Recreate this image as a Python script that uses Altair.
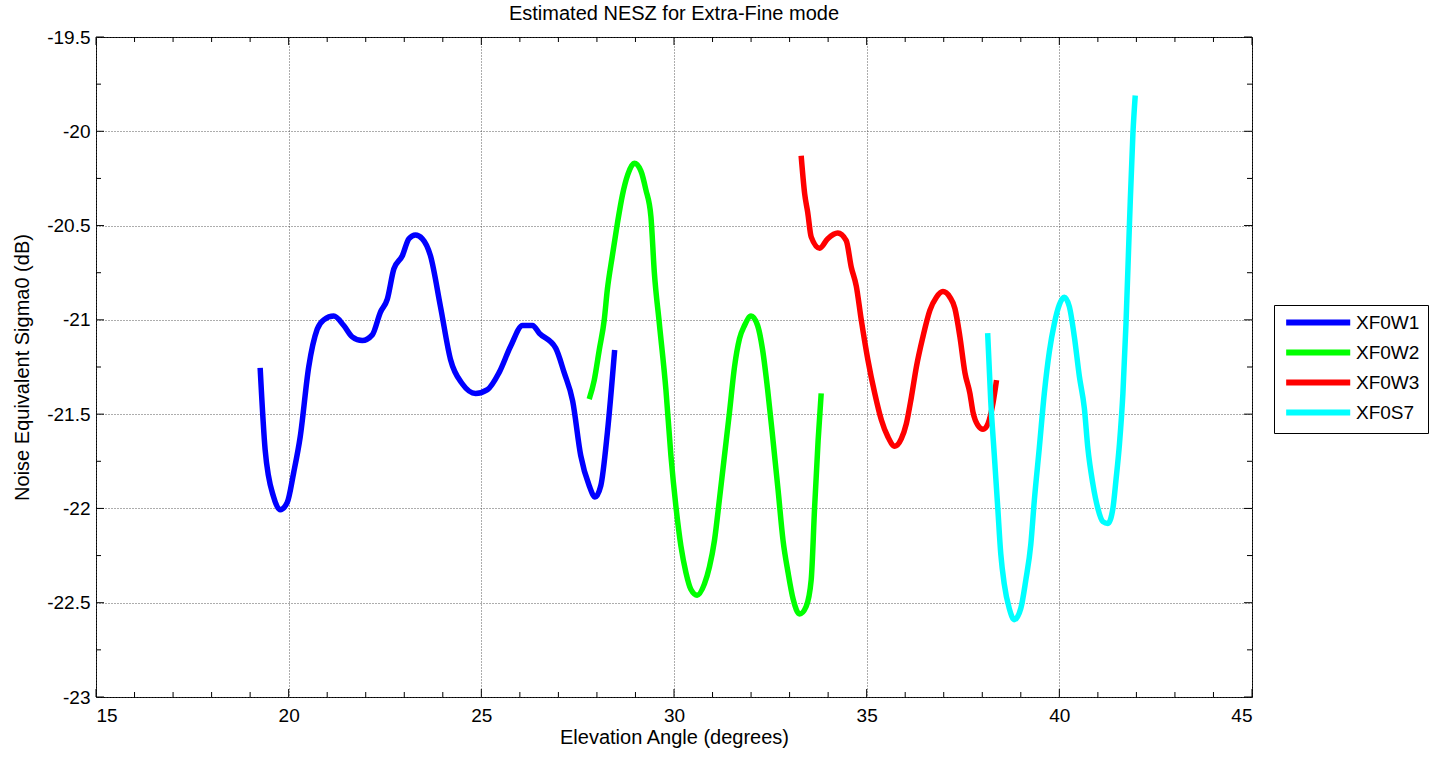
import altair as alt
import pandas as pd

# Plot area size in pixels
W, H = 1156, 660
FONT = "Liberation Sans"

SERIES = ["XF0W1", "XF0W2", "XF0W3", "XF0S7"]
COLORS = ["#0000ff", "#00ff00", "#ff0000", "#00ffff"]

xf0w1_angle = [19.26, 19.39, 19.61, 19.78, 19.96, 20.13, 20.30, 20.52, 20.74, 20.91,
               21.17, 21.43, 21.65, 21.91, 22.17, 22.38, 22.56, 22.73, 22.95, 23.12,
               23.29, 23.47, 23.68, 23.94, 24.20, 24.51, 24.85, 25.16, 25.46, 25.76,
               26.07, 26.33, 26.50, 26.93, 27.15, 27.37, 27.58, 27.80, 27.95, 28.10,
               28.27, 28.46]
xf0w1_nesz = [-21.255, -21.69, -21.94, -22.007, -21.97, -21.81, -21.62, -21.25, -21.05, -21.0,
              -20.98, -21.03, -21.09, -21.11, -21.08, -20.96, -20.89, -20.73, -20.66, -20.57,
              -20.55, -20.57, -20.66, -20.93, -21.21, -21.34, -21.39, -21.37, -21.28, -21.14,
              -21.03, -21.03, -21.07, -21.15, -21.28, -21.43, -21.72, -21.88, -21.94, -21.88,
              -21.60, -21.16]

xf0w2_angle = [27.80, 27.93, 28.06, 28.19, 28.27, 28.40, 28.53, 28.66, 28.80, 28.97,
               29.14, 29.27, 29.40, 29.49, 29.62, 29.79, 29.92, 30.05, 30.18, 30.31,
               30.44, 30.60, 30.79, 30.92, 31.05, 31.18, 31.31, 31.44, 31.57, 31.70,
               31.83, 32.00, 32.17, 32.30, 32.43, 32.57, 32.70, 32.83, 32.96, 33.09,
               33.26, 33.43, 33.56, 33.65, 33.74, 33.82]
xf0w2_nesz = [-21.42, -21.32, -21.16, -21.0, -20.84, -20.66, -20.49, -20.34, -20.23, -20.17,
              -20.21, -20.31, -20.45, -20.75, -21.02, -21.37, -21.72, -21.99, -22.20, -22.34,
              -22.43, -22.46, -22.40, -22.31, -22.17, -21.95, -21.72, -21.49, -21.25, -21.10,
              -21.03, -20.98, -21.03, -21.16, -21.37, -21.64, -21.90, -22.17, -22.34, -22.48,
              -22.56, -22.52, -22.38, -21.99, -21.64, -21.39]

xf0w3_angle = [33.30, 33.39, 33.47, 33.56, 33.78, 33.99, 34.25, 34.47, 34.60, 34.73,
               34.86, 35.03, 35.21, 35.38, 35.55, 35.73, 35.90, 36.03, 36.16, 36.29,
               36.46, 36.64, 36.81, 36.98, 37.16, 37.29, 37.42, 37.55, 37.68, 37.76,
               37.89, 38.02, 38.15, 38.28, 38.37]
xf0w3_nesz = [-20.13, -20.33, -20.43, -20.56, -20.62, -20.57, -20.54, -20.58, -20.72, -20.82,
              -21.0, -21.21, -21.39, -21.53, -21.62, -21.67, -21.63, -21.55, -21.41, -21.25,
              -21.09, -20.95, -20.88, -20.85, -20.88, -20.94, -21.09, -21.28, -21.39, -21.49,
              -21.56, -21.58, -21.55, -21.44, -21.32]

xf0s7_angle = [38.14, 38.22, 38.31, 38.40, 38.48, 38.57, 38.70, 38.83, 39.00, 39.13,
               39.26, 39.35, 39.48, 39.61, 39.74, 39.87, 40.00, 40.13, 40.26, 40.39,
               40.52, 40.65, 40.74, 40.87, 41.00, 41.13, 41.26, 41.39, 41.47, 41.56,
               41.65, 41.73, 41.82, 41.91, 41.97]
xf0s7_nesz = [-21.07, -21.43, -21.71, -21.99, -22.24, -22.40, -22.53, -22.59, -22.53, -22.38,
              -22.19, -21.96, -21.68, -21.39, -21.17, -21.02, -20.92, -20.88, -20.93, -21.09,
              -21.30, -21.47, -21.68, -21.87, -22.0, -22.07, -22.08, -22.0, -21.85, -21.66,
              -21.39, -21.02, -20.49, -20.01, -19.81]

x_major = [15, 20, 25, 30, 35, 40, 45]
x_minor = [v for v in range(16, 45) if v % 5 != 0]
y_major = [-23, -22.5, -22, -21.5, -21, -20.5, -20, -19.5]
y_minor = [-22.75, -22.25, -21.75, -21.25, -20.75, -20.25, -19.75]

rows = []
for name, xs, ys in [
    ("XF0W1", xf0w1_angle, xf0w1_nesz),
    ("XF0W2", xf0w2_angle, xf0w2_nesz),
    ("XF0W3", xf0w3_angle, xf0w3_nesz),
    ("XF0S7", xf0s7_angle, xf0s7_nesz),
]:
    for i, (a, b) in enumerate(zip(xs, ys)):
        rows.append({"series": name, "angle": a, "nesz": b, "idx": i})
df = pd.DataFrame(rows)

x_scale = alt.Scale(domain=[15, 45], nice=False, zero=False)
y_scale = alt.Scale(domain=[-23, -19.5], nice=False, zero=False)
x_axis = alt.Axis(values=x_major, title="Elevation Angle (degrees)",
                  labelExpr="datum.value + ''")
y_axis = alt.Axis(values=y_major, title="Noise Equivalent Sigma0 (dB)",
                  labelExpr="datum.value + ''")

# legend sample: a horizontal stroke starting at the symbol's left edge
SAMPLE_PATH = "M-1,0H11"

lines = alt.Chart(df).mark_line(strokeWidth=5.5, strokeJoin="round",
                                interpolate="monotone", clip=True).encode(
    x=alt.X("angle:Q", scale=x_scale, axis=x_axis),
    y=alt.Y("nesz:Q", scale=y_scale, axis=y_axis),
    color=alt.Color("series:N", scale=alt.Scale(domain=SERIES, range=COLORS),
                    legend=alt.Legend(title=None, orient="none", legendX=1178, legendY=268,
                                      symbolType=SAMPLE_PATH, symbolSize=114,
                                      symbolStrokeWidth=6, labelFontSize=19,
                                      labelFont=FONT, labelColor="black",
                                      strokeColor="black", fillColor="white",
                                      padding=8, rowPadding=5, labelOffset=55)),
    order="idx:Q",
)

xmaj = pd.DataFrame({"v": x_major})
xmin = pd.DataFrame({"v": x_minor})
ymaj = pd.DataFrame({"v": y_major})
ymin = pd.DataFrame({"v": y_minor})


def xticks(data, length):
    base = alt.Chart(data).mark_rule(color="black", strokeWidth=1)
    enc = alt.X("v:Q", scale=x_scale, axis=x_axis)
    return [
        base.encode(x=enc, y=alt.value(H), y2=alt.value(H - length)),
        base.encode(x=enc, y=alt.value(0), y2=alt.value(length)),
    ]


def yticks(data, length):
    base = alt.Chart(data).mark_rule(color="black", strokeWidth=1)
    enc = alt.Y("v:Q", scale=y_scale, axis=y_axis)
    return [
        base.encode(y=enc, x=alt.value(0), x2=alt.value(length)),
        base.encode(y=enc, x=alt.value(W), x2=alt.value(W - length)),
    ]


tick_layers = xticks(xmaj, 8) + xticks(xmin, 5) + yticks(ymaj, 8) + yticks(ymin, 5)

chart = alt.layer(lines, *tick_layers).properties(
    width=W,
    height=H,
    title=alt.TitleParams("Estimated NESZ for Extra-Fine mode", font=FONT, fontSize=20,
                          fontWeight="normal", color="black", offset=4),
    autosize=alt.AutoSizeParams(type="none"),
    padding={"left": 96, "top": 37, "right": 184, "bottom": 60},
).configure_view(
    stroke="black", strokeWidth=1
).configure_axis(
    grid=True, gridColor="#4a4a4a", gridDash=[1, 2], gridWidth=1, gridOpacity=0.9,
    ticks=False, domain=False,
    labelFont=FONT, labelFontSize=19, labelColor="black",
    titleFont=FONT, titleFontSize=20, titleFontWeight="normal", titleColor="black",
).configure_axisX(
    labelPadding=9, titlePadding=2
).configure_axisY(
    labelPadding=6, titlePadding=14
)

chart.save("out.html", embed_options={"renderer": "svg", "actions": False})
